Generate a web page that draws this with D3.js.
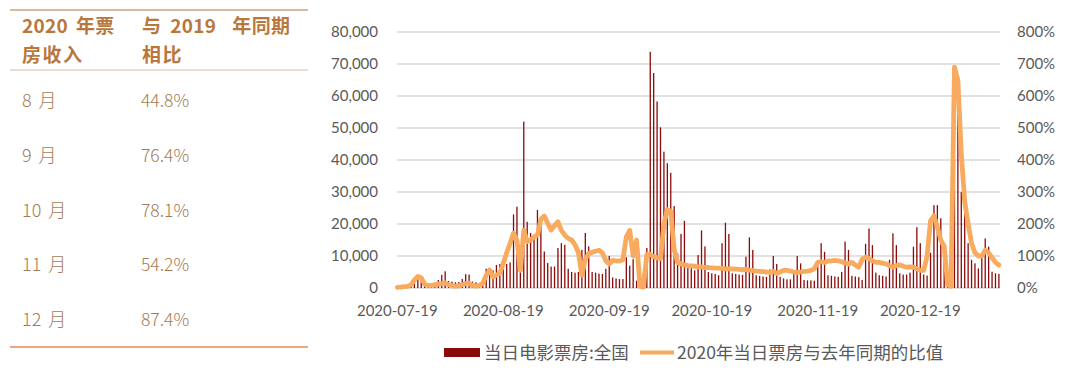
<!DOCTYPE html>
<html>
<head>
<meta charset="utf-8">
<script src="https://cdn.jsdelivr.net/npm/d3@7"></script>
<style>
body { margin: 0; background: #fff; }
svg { display: block; }
</style>
</head>
<body>
<svg id="chart" width="1080" height="380"></svg>
<script>
// left table
var tableHead = [[["2020", "年票"], ["房收入"]], [["与", "2019", "年同期"], ["相比"]]];
var months = ["8 月", "9 月", "10 月", "11 月", "12 月"];
var yoy = ["44.8%", "76.4%", "78.1%", "54.2%", "87.4%"];

// chart data, one value per day from 2020-07-19
var startDay = "2020-07-19";
var boxOffice = [
  0, 300, 400, 500, 800, 2600, 3600, 2800, 1200, 1300,
  1500, 1700, 2500, 4100, 5200, 2200, 2000, 1800, 1900, 2800,
  4300, 4200, 2000, 1800, 1500, 1600, 6000, 5800, 5500, 7200,
  7500, 7300, 7500, 8000, 23000, 25400, 13000, 52000, 20700, 17200,
  16600, 24400, 21200, 11400, 7800, 6700, 6700, 12500, 14000, 13500,
  6000, 5000, 4800, 5000, 11900, 17200, 13000, 5000, 4800, 4500,
  4400, 6000, 10000, 3300, 3000, 2800, 2800, 9600, 7000, 9000,
  2300, 3000, 4600, 12500, 73800, 67200, 58300, 50200, 42600, 39000,
  36000, 25600, 10800, 16900, 21000, 6700, 6200, 5500, 10300, 18000,
  13000, 5000, 4600, 4400, 4000, 14000, 20400, 16900, 4600, 4400,
  4200, 4100, 9800, 15800, 11900, 4000, 3800, 3600, 3500, 5800,
  10000, 7500, 3500, 3000, 2700, 2700, 4600, 10000, 7700, 2500,
  2400, 2400, 2300, 8200, 14000, 11300, 4000, 3800, 3600, 3500,
  5000, 14500, 11900, 3800, 3600, 3400, 2500, 13800, 18600, 13400,
  4800, 4000, 3800, 3600, 8800, 17100, 13400, 4600, 4200, 4200,
  4800, 12900, 19000, 14000, 4200, 3900, 11000, 25900, 25900, 21800,
  11000, 2500, 2500, 40000, 60000, 30000, 26500, 14000, 8800, 7700,
  6100, 9800, 15500, 12900, 5100, 4600, 4400
];
var ratio = [
  2, 3, 4, 5, 10, 25, 36, 32, 12, 8,
  8, 10, 12, 14, 16, 10, 7, 6, 7, 10,
  14, 15, 8, 6, 8, 15, 40, 56, 35, 40,
  46, 77, 110, 140, 171, 150, 55, 181, 145, 150,
  160, 165, 215, 225, 202, 181, 195, 207, 180, 165,
  155, 150, 135, 110, 40, 90, 108, 112, 115, 118,
  110, 85, 75, 86, 85, 84, 88, 160, 180, 100,
  150, 5, 3, 105, 105, 98, 95, 92, 200, 245,
  240, 120, 80, 75, 72, 70, 69, 68, 66, 66,
  64, 64, 63, 62, 62, 61, 60, 60, 60, 59,
  58, 57, 58, 56, 54, 53, 52, 51, 50, 48,
  52, 45, 50, 55, 55, 53, 50, 48, 50, 52,
  53, 55, 60, 80, 82, 80, 84, 85, 86, 85,
  82, 78, 75, 80, 72, 65, 90, 96, 92, 85,
  80, 80, 78, 75, 70, 65, 70, 72, 68, 65,
  66, 65, 60, 55, 55, 100, 210, 225, 190, 150,
  130, 10, 5, 690, 650, 420, 270, 200, 140, 110,
  100, 100, 118, 110, 95, 80, 72
];
var xTicks = ["2020-07-19", "2020-08-19", "2020-09-19", "2020-10-19", "2020-11-19", "2020-12-19"];
var leftTicks = [0, 10000, 20000, 30000, 40000, 50000, 60000, 70000, 80000];
var rightTicks = [0, 100, 200, 300, 400, 500, 600, 700, 800];
var legendNames = ["当日电影票房:全国", "2020年当日票房与去年同期的比值"];

var barColor = "#8b0a0a", lineColor = "#f8aa5e";
var svg = d3.select("#chart");

// ---- table ----
var tab = svg.append("g").attr("font-family", "'Noto Sans CJK SC', 'Noto Sans', sans-serif");
tab.append("line").attr("x1", 10).attr("x2", 308).attr("y1", 10).attr("y2", 10)
  .attr("stroke", "#c9a47f").attr("stroke-width", 1.5);
tab.append("line").attr("x1", 10).attr("x2", 308).attr("y1", 70).attr("y2", 70)
  .attr("stroke", "#d6bc9f").attr("stroke-width", 1);
tab.append("line").attr("x1", 10).attr("x2", 308).attr("y1", 347).attr("y2", 347)
  .attr("stroke", "#e2895c").attr("stroke-width", 1.5);

// header words with the wide gaps of the justified original
var headX = [22, 142], gapW = [[0, 8], [0, 9, 16]];
tableHead.forEach(function(col, c) {
  col.forEach(function(words, r) {
    var tx = tab.append("text").attr("x", headX[c]).attr("y", 33 + r * 29)
      .attr("font-size", 19).attr("font-weight", "bold").attr("fill", "#b9773d")
      .attr("letter-spacing", r == 1 ? 1.5 : 0.3);
    words.forEach(function(w, k) {
      tx.append("tspan").attr("dx", r == 0 ? gapW[c][k] : 0).text(w);
    });
  });
});
var rowY = d3.scaleLinear().domain([0, 4]).range([107, 326]);
months.forEach(function(m, i) {
  tab.append("text").attr("x", 22).attr("y", rowY(i)).attr("font-size", 18)
    .attr("font-weight", 300).attr("word-spacing", 3).attr("fill", "#a37c55")
    .text(m);
  tab.append("text").attr("x", 141).attr("y", rowY(i)).attr("font-size", 17.5)
    .attr("font-weight", 300).attr("fill", "#a37c55").text(yoy[i]);
});

// ---- chart ----
var fmt = d3.timeFormat("%Y-%m-%d");
var parse = d3.timeParse("%Y-%m-%d");
var t0 = parse(startDay);
var days = d3.timeDay.range(t0, d3.timeDay.offset(t0, boxOffice.length)).map(fmt);

var x = d3.scaleBand().domain(days).range([395.6, 1000.6]).paddingInner(0.62).paddingOuter(0.31);
var yL = d3.scaleLinear().domain([0, 80000]).range([288, 32]);
var yR = d3.scaleLinear().domain([0, 800]).range([288, 32]);

var g = svg.append("g").attr("font-family", "Lato, 'Noto Sans', sans-serif");

g.selectAll(".grid").data(leftTicks).enter().append("line")
  .attr("class", "grid").attr("x1", 397).attr("x2", 1000)
  .attr("y1", function(d) { return yL(d); }).attr("y2", function(d) { return yL(d); })
  .attr("stroke", "#d9d9d9").attr("stroke-width", 1.3);

g.selectAll(".bar").data(boxOffice).enter().append("rect")
  .attr("class", "bar")
  .attr("x", function(d, i) { return x(days[i]); })
  .attr("width", x.bandwidth())
  .attr("y", function(d) { return yL(d); })
  .attr("height", function(d) { return 288 - yL(d); })
  .attr("fill", barColor);

var line = d3.line()
  .x(function(d, i) { return x(days[i]) + x.bandwidth() / 2; })
  .y(function(d) { return yR(d); });
g.append("path").datum(ratio).attr("d", line)
  .attr("fill", "none").attr("stroke", lineColor).attr("stroke-width", 4.8)
  .attr("stroke-linejoin", "round").attr("stroke-linecap", "round");

var axL = g.append("g").attr("transform", "translate(397,0)")
  .call(d3.axisLeft(yL).tickValues(leftTicks).tickFormat(d3.format(",")).tickSize(0).tickPadding(19));
var axR = g.append("g").attr("transform", "translate(1000,0)")
  .call(d3.axisRight(yR).tickValues(rightTicks).tickFormat(function(d) { return d + "%"; }).tickSize(0).tickPadding(17));
var axB = g.append("g").attr("transform", "translate(0,288)")
  .call(d3.axisBottom(x).tickValues(xTicks).tickSize(0).tickPadding(17));
[axL, axR, axB].forEach(function(a) {
  a.select(".domain").remove();
  a.selectAll("text").attr("font-family", "Lato, 'Noto Sans', sans-serif")
    .attr("font-size", 15).attr("fill", "#595959");
});

// legend
var lg = svg.append("g").attr("font-family", "'Noto Sans CJK SC', sans-serif")
  .attr("font-size", 17.5).attr("fill", "#595959");
lg.append("rect").attr("x", 444).attr("y", 348).attr("width", 36).attr("height", 9).attr("fill", barColor);
lg.append("text").attr("x", 484).attr("y", 358.5).text(legendNames[0]);
lg.append("line").attr("x1", 640).attr("x2", 674).attr("y1", 352.5).attr("y2", 352.5)
  .attr("stroke", lineColor).attr("stroke-width", 4);
lg.append("text").attr("x", 677).attr("y", 358.5).text(legendNames[1]);
</script>
</body>
</html>
